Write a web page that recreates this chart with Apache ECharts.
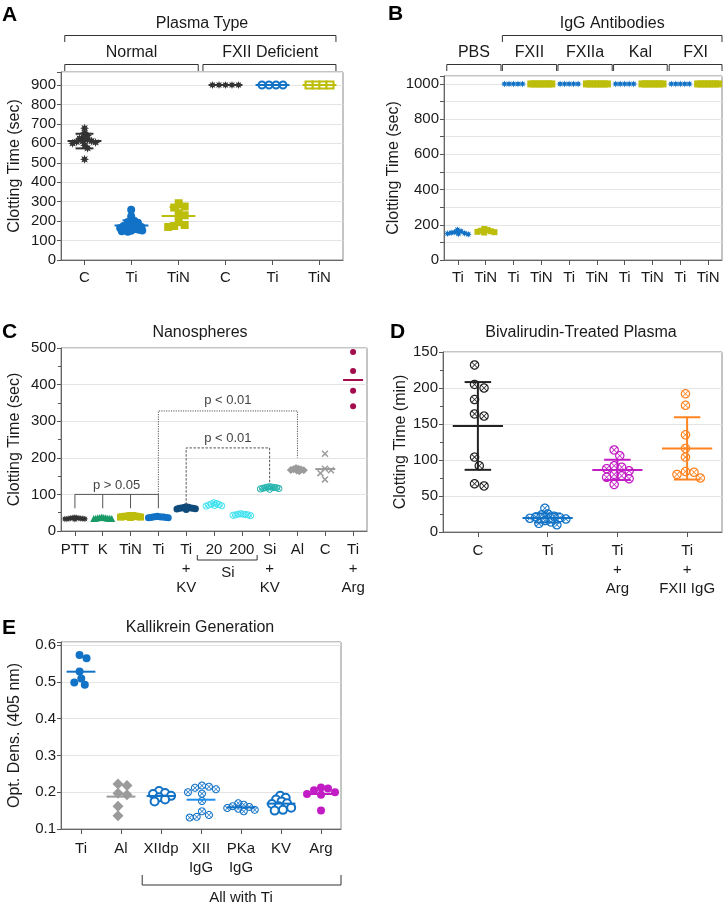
<!DOCTYPE html>
<html><head><meta charset="utf-8">
<script src="https://cdn.jsdelivr.net/npm/echarts@6/dist/echarts.min.js"></script>
<style>html,body{margin:0;padding:0;background:#fff}#c{width:728px;height:907px}</style>
</head><body><div id="c"></div>
<script>
// ================= DATA =================
// Panel A : Plasma Type
const catsA = ['C', 'Ti', 'TiN', 'C', 'Ti', 'TiN'];
const yTicksA = ['0', '100', '200', '300', '400', '500', '600', '700', '800', '900'];
const A_normal_C = [678, 655, 640, 630, 625, 618, 612, 610, 608, 605, 600, 590, 575, 518];
const A_normal_Ti = [258, 225, 205, 200, 195, 190, 185, 180, 178, 175, 172, 170, 168, 165, 162, 160, 158, 155, 152, 150, 148, 145];
const A_normal_TiN = [292, 275, 270, 240, 230, 200, 180, 175, 170];
const A_def_C = [900, 900, 900, 900, 900];
const A_def_Ti = [900, 900, 900, 900];
const A_def_TiN = [900, 900, 900, 900];

// Panel B : IgG Antibodies
const catsB = ['Ti', 'TiN', 'Ti', 'TiN', 'Ti', 'TiN', 'Ti', 'TiN', 'Ti', 'TiN'];
const groupsB = ['PBS', 'FXII', 'FXIIa', 'Kal', 'FXI'];
const yTicksB = ['0', '200', '400', '600', '800', '1000'];
const B_PBS_Ti = [172, 163, 158, 155, 152, 150, 148, 146];
const B_PBS_TiN = [176, 170, 166, 163, 160, 158, 156];
const B_FXII_Ti = [1000, 1000, 1000, 1000, 1000];
const B_FXII_TiN = [1000, 1000, 1000, 1000, 1000, 1000, 1000, 1000];
const B_FXIIa_Ti = [1000, 1000, 1000, 1000, 1000];
const B_FXIIa_TiN = [1000, 1000, 1000, 1000, 1000, 1000, 1000, 1000];
const B_Kal_Ti = [1000, 1000, 1000, 1000, 1000];
const B_Kal_TiN = [1000, 1000, 1000, 1000, 1000, 1000, 1000, 1000];
const B_FXI_Ti = [1000, 1000, 1000, 1000, 1000];
const B_FXI_TiN = [1000, 1000, 1000, 1000, 1000, 1000, 1000, 1000];

// Panel C : Nanospheres
const catsC = ['PTT', 'K', 'TiN', 'Ti', 'Ti\n+\nKV', '20', '200', 'Si\n+\nKV', 'Al', 'C', 'Ti\n+\nArg'];
const yTicksC = ['0', '100', '200', '300', '400', '500'];
const C_PTT = [37, 36, 36, 35, 35, 34, 34, 34, 33, 33, 33, 32];
const C_K = [38, 37, 37, 36, 36, 35, 35, 35, 34, 34];
const C_TiN = [42, 42, 41, 41, 40, 40, 40, 39, 39, 38, 38, 37];
const C_Ti = [40, 39, 39, 38, 38, 38, 37, 37, 36, 36];
const C_TiKV = [66, 65, 64, 63, 63, 62, 62, 61, 60, 59];
const C_Si20 = [77, 75, 74, 72, 71, 70, 69, 68];
const C_Si200 = [47, 46, 46, 45, 44, 44, 43, 42];
const C_SiKV = [121, 120, 120, 119, 118, 118, 117, 116, 115, 114];
const C_Al = [172, 170, 169, 168, 167, 166, 165, 163];
const C_C = [211, 170, 166, 158, 141];
const C_TiArg = [489, 437, 383, 341];
const pLabels = ['p > 0.05', 'p < 0.01', 'p < 0.01'];

// Panel D : Bivalirudin-Treated Plasma
const catsD = ['C', 'Ti', 'Ti\n+\nArg', 'Ti\n+\nFXII IgG'];
const yTicksD = ['0', '50', '100', '150', '200', '150'];
const D_C = [232, 205, 200, 184, 161, 164, 104, 92, 64, 67];
const D_Ti = [33, 25, 24, 22, 21, 20, 19, 18, 16, 14, 12, 10];
const D_TiArg = [114, 106, 92, 90, 88, 85, 80, 78, 76, 74, 66];
const D_TiFXII = [192, 176, 135, 116, 104, 83, 84, 80, 75];

// Panel E : Kallikrein Generation
const catsE = ['Ti', 'Al', 'XIIdp', 'XII\nIgG', 'PKa\nIgG', 'KV', 'Arg'];
const yTicksE = ['0.1', '0.2', '0.3', '0.4', '0.5', '0.6'];
const E_Ti = [0.573, 0.564, 0.528, 0.509, 0.498, 0.492];
const E_Al = [0.222, 0.218, 0.197, 0.193, 0.162, 0.136];
const E_XIIdp = [0.203, 0.198, 0.195, 0.19, 0.186, 0.18, 0.175];
const E_XIIIgG = [0.218, 0.215, 0.212, 0.208, 0.2, 0.196, 0.176, 0.148, 0.138, 0.133, 0.131];
const E_PKaIgG = [0.17, 0.166, 0.162, 0.16, 0.157, 0.155, 0.152, 0.148];
const E_KV = [0.19, 0.185, 0.18, 0.175, 0.17, 0.168, 0.162, 0.158, 0.152, 0.15];
const E_Arg = [0.213, 0.21, 0.205, 0.2, 0.195, 0.193, 0.15];

// ================= STYLE =================
const FONT = '"Liberation Sans", Arial, Helvetica, sans-serif';
const TXT = '#1a1a1a';
const COL = {
  dark: '#333333', blue: '#1272C6', olive: '#BDBD0C', green: '#189A66', navy: '#0E4A7A',
  cyan: '#40E2F0', teal: '#20B2AC', gray: '#9B9B9B', crimson: '#A40B4C', magenta: '#C21CC4',
  orange: '#FF8421', black: '#222222'
};

function poly(pts) { return 'M' + pts.map(p => p[0].toFixed(2) + ' ' + p[1].toFixed(2)).join(' L') + ' Z'; }
function circ(r, n, rev) { const o = []; for (let i = 0; i < n; i++) { const a = (rev ? -1 : 1) * 2 * Math.PI * i / n; o.push([r * Math.cos(a), r * Math.sin(a)]); } return o; }
function starPts() { const o = []; for (let i = 0; i < 16; i++) { const a = i * Math.PI / 8 - Math.PI / 2; const r = i % 2 ? 5.2 : 10; o.push([r * Math.cos(a), r * Math.sin(a)]); } return o; }
const SYM = {
  star: 'path://' + poly(starPts()),
  otimes: 'path://' + poly(circ(10, 36, true)) + ' ' + poly(circ(7.4, 36, false)) + ' ' +
    poly([[-5.9, -4.7], [4.7, 5.9], [5.9, 4.7], [-4.7, -5.9]]) + ' ' + poly([[-5.9, 4.7], [-4.7, 5.9], [5.9, -4.7], [4.7, -5.9]]),
  cross: 'path://' + poly([[-10, -7], [7, 10], [10, 7], [-7, -10]]) + ' ' + poly([[-10, 7], [-7, 10], [10, -7], [7, -10]])
};

// layout of the five plot areas
const GRIDS = [
  { left: 61, top: 72, width: 282, height: 188 },   // A
  { left: 444, top: 76, width: 278, height: 184 },  // B
  { left: 61, top: 348, width: 306, height: 183 },  // C
  { left: 443, top: 352, width: 279, height: 180 }, // D
  { left: 61, top: 642, width: 280, height: 187 }   // E
];
const Y = [
  { min: 0, max: 967, interval: 100, ticks: yTicksA, step: 100, name: 'Clotting Time (sec)', gap: 38, minor: 0 },
  { min: 0, max: 1045, interval: 100, ticks: yTicksB, step: 200, name: 'Clotting Time (sec)', gap: 36, minor: 0 },
  { min: 0, max: 500, interval: 100, ticks: yTicksC, step: 100, name: 'Clotting Time (sec)', gap: 38, minor: 2 },
  { min: 0, max: 250, interval: 50, ticks: yTicksD, step: 50, name: 'Clotting Time (min)', gap: 34, minor: 2 },
  { min: 0.1, max: 0.608, interval: 0.1, ticks: yTicksE, step: 0.1, name: 'Opt. Dens. (405 nm)', gap: 38, minor: 0 }
];
const CATS = [catsA, catsB, catsC, catsD, catsE];
const XMARGIN = [8, 8, 9, 9, 10];

// scatter groups: grid, category, values, symbol, size, color, swarm distance
const groups = [
  { g: 0, c: 0, v: A_normal_C, s: SYM.star, z: 9, col: COL.dark, d: 4 },
  { g: 0, c: 1, v: A_normal_Ti, s: 'circle', z: 8, col: COL.blue, d: 3.4 },
  { g: 0, c: 2, v: A_normal_TiN, s: 'rect', z: 8, col: COL.olive, d: 6 },
  { g: 0, c: 3, v: A_def_C, s: SYM.star, z: 8, col: COL.dark, d: 6.5 },
  { g: 0, c: 4, v: A_def_Ti, s: 'emptyCircle', z: 7, col: COL.blue, d: 7, bw: 1.4 },
  { g: 0, c: 5, v: A_def_TiN, s: 'emptyRect', z: 7, col: COL.olive, d: 7, bw: 1.4 },

  { g: 1, c: 0, v: B_PBS_Ti, s: SYM.star, z: 7, col: COL.blue, d: 3.6 },
  { g: 1, c: 1, v: B_PBS_TiN, s: 'rect', z: 6, col: COL.olive, d: 3.4 },
  { g: 1, c: 2, v: B_FXII_Ti, s: SYM.star, z: 7, col: COL.blue, d: 4.5 },
  { g: 1, c: 3, v: B_FXII_TiN, s: 'rect', z: 7, col: COL.olive, d: 3 },
  { g: 1, c: 4, v: B_FXIIa_Ti, s: SYM.star, z: 7, col: COL.blue, d: 4.5 },
  { g: 1, c: 5, v: B_FXIIa_TiN, s: 'rect', z: 7, col: COL.olive, d: 3 },
  { g: 1, c: 6, v: B_Kal_Ti, s: SYM.star, z: 7, col: COL.blue, d: 4.5 },
  { g: 1, c: 7, v: B_Kal_TiN, s: 'rect', z: 7, col: COL.olive, d: 3 },
  { g: 1, c: 8, v: B_FXI_Ti, s: SYM.star, z: 7, col: COL.blue, d: 4.5 },
  { g: 1, c: 9, v: B_FXI_TiN, s: 'rect', z: 7, col: COL.olive, d: 3 },

  { g: 2, c: 0, v: C_PTT, s: SYM.star, z: 7, col: COL.dark, d: 1.8 },
  { g: 2, c: 1, v: C_K, s: 'triangle', z: 7, col: COL.green, d: 2 },
  { g: 2, c: 2, v: C_TiN, s: 'rect', z: 7, col: COL.olive, d: 1.8 },
  { g: 2, c: 3, v: C_Ti, s: 'circle', z: 7, col: COL.blue, d: 2.2 },
  { g: 2, c: 4, v: C_TiKV, s: 'circle', z: 7, col: COL.navy, d: 2.3 },
  { g: 2, c: 5, v: C_Si20, s: SYM.otimes, z: 7, col: COL.cyan, d: 2.6 },
  { g: 2, c: 6, v: C_Si200, s: SYM.otimes, z: 7, col: COL.cyan, d: 2.5 },
  { g: 2, c: 7, v: C_SiKV, s: SYM.otimes, z: 7, col: COL.teal, d: 2.3 },
  { g: 2, c: 8, v: C_Al, s: 'diamond', z: 8, col: COL.gray, d: 2.6 },
  { g: 2, c: 9, v: C_C, s: SYM.cross, z: 7, col: COL.gray, d: 6 },
  { g: 2, c: 10, v: C_TiArg, s: 'circle', z: 6, col: COL.crimson, d: 6 },

  { g: 3, c: 0, v: D_C, s: SYM.otimes, z: 9.5, col: COL.black, d: 9.5 },
  { g: 3, c: 1, v: D_Ti, s: SYM.otimes, z: 9.5, col: COL.blue, d: 6 },
  { g: 3, c: 2, v: D_TiArg, s: SYM.otimes, z: 9.5, col: COL.magenta, d: 7.5 },
  { g: 3, c: 3, v: D_TiFXII, s: SYM.otimes, z: 9.5, col: COL.orange, d: 8.5 },

  { g: 4, c: 0, v: E_Ti, s: 'circle', z: 8, col: COL.blue, d: 7 },
  { g: 4, c: 1, v: E_Al, s: 'diamond', z: 11, col: COL.gray, d: 9 },
  { g: 4, c: 2, v: E_XIIdp, s: 'emptyCircle', z: 8, col: COL.blue, d: 6, bw: 1.4 },
  { g: 4, c: 3, v: E_XIIIgG, s: SYM.otimes, z: 8, col: COL.blue, d: 7 },
  { g: 4, c: 4, v: E_PKaIgG, s: SYM.otimes, z: 8, col: COL.blue, d: 5.5 },
  { g: 4, c: 5, v: E_KV, s: 'emptyCircle', z: 8, col: COL.blue, d: 5.5, bw: 1.4 },
  { g: 4, c: 6, v: E_Arg, s: 'circle', z: 8, col: COL.magenta, d: 7 }
];

// mean (and SD) lines: grid, category, values, colour, show SD
const meanLines = [
  { g: 0, c: 0, v: A_normal_C, col: COL.dark, sd: true },
  { g: 0, c: 1, v: A_normal_Ti, col: COL.blue, sd: true },
  { g: 0, c: 2, v: A_normal_TiN, col: COL.olive, sd: true },
  { g: 0, c: 3, v: A_def_C, col: COL.dark, sd: false },
  { g: 0, c: 4, v: A_def_Ti, col: COL.blue, sd: false },
  { g: 0, c: 5, v: A_def_TiN, col: COL.olive, sd: false },
  { g: 2, c: 9, v: C_C, col: COL.gray, sd: false },
  { g: 2, c: 10, v: C_TiArg, col: COL.crimson, sd: false },
  { g: 3, c: 0, v: D_C, col: COL.black, sd: true },
  { g: 3, c: 1, v: D_Ti, col: COL.blue, sd: true },
  { g: 3, c: 2, v: D_TiArg, col: COL.magenta, sd: true },
  { g: 3, c: 3, v: D_TiFXII, col: COL.orange, sd: true },
  { g: 4, c: 0, v: E_Ti, col: COL.blue, sd: false },
  { g: 4, c: 1, v: E_Al, col: COL.gray, sd: false },
  { g: 4, c: 2, v: E_XIIdp, col: COL.blue, sd: false },
  { g: 4, c: 3, v: E_XIIIgG, col: '#1E8FF0', sd: false },
  { g: 4, c: 4, v: E_PKaIgG, col: COL.blue, sd: false },
  { g: 4, c: 5, v: E_KV, col: COL.blue, sd: false },
  { g: 4, c: 6, v: E_Arg, col: COL.magenta, sd: false }
];

// ================= BUILD =================
const mean = a => a.reduce((s, x) => s + x, 0) / a.length;
const sdev = a => { const m = mean(a); return a.length > 1 ? Math.sqrt(a.reduce((s, x) => s + (x - m) * (x - m), 0) / (a.length - 1)) : 0; };

const chart = echarts.init(document.getElementById('c'), null, { renderer: 'canvas', width: 728, height: 907 });

const grid = GRIDS.map(g => Object.assign({ show: true, borderColor: '#8a8a8a', borderWidth: 1, backgroundColor: 'transparent', containLabel: false, outerBoundsMode: 'none' }, g));
const xAxis = CATS.map((cats, i) => ({
  type: 'category', gridIndex: i, data: cats,
  axisLine: { show: true, lineStyle: { color: '#666', width: 1 } },
  axisTick: { show: true, alignWithLabel: true, length: 5, lineStyle: { color: '#555' } },
  axisLabel: { interval: 0, color: TXT, fontSize: 15, fontFamily: FONT, lineHeight: 19, margin: XMARGIN[i] },
  splitLine: { show: false }
}));
const yAxis = Y.map((y, i) => ({
  type: 'value', gridIndex: i, min: y.min, max: y.max, interval: y.interval,
  name: y.name, nameLocation: 'middle', nameGap: y.gap,
  nameTextStyle: { color: TXT, fontSize: 16, fontFamily: FONT },
  axisLine: { show: true, lineStyle: { color: '#666', width: 1 } },
  axisTick: { show: true, length: 4, lineStyle: { color: '#555' } },
  minorTick: { show: y.minor > 0, splitNumber: y.minor || 5, length: 3, lineStyle: { color: '#555' } },
  splitLine: { show: true, lineStyle: { color: '#e4e4e4', width: 1 } },
  axisLabel: {
    color: TXT, fontSize: 15, fontFamily: FONT, margin: 5, showMaxLabel: true,
    formatter: v => {
      const k = (v - y.min) / y.step;
      const idx = Math.round(k);
      if (Math.abs(k - idx) > 1e-6) return '';
      const lab = y.ticks[idx];
      return lab === undefined ? '' : lab;
    }
  }
}));

function scatterSeries(gr, offsets) {
  return {
    type: 'scatter', xAxisIndex: gr.g, yAxisIndex: gr.g, symbol: gr.s, symbolSize: gr.z,
    itemStyle: { color: gr.col, borderWidth: gr.bw || 0, borderColor: gr.col, opacity: 1 },
    emphasis: { disabled: true }, silent: true, z: 2, animation: false,
    data: gr.v.map((val, k) => ({ value: [gr.c, val], symbolOffset: [offsets ? offsets[k] : 0, 0] }))
  };
}

function meanSeries() {
  const out = [];
  meanLines.forEach(ml => {
    out.push({
      type: 'custom', xAxisIndex: ml.g, yAxisIndex: ml.g, z: 5, silent: true, animation: false,
      data: [[ml.c, mean(ml.v), ml.sd ? sdev(ml.v) : 0]],
      renderItem: (params, api) => {
        const cx = api.value(0), m = api.value(1), s = api.value(2);
        const p = api.coord([cx, m]);
        const band = api.size([1, 0], [cx, m])[0];
        const hw = band * 0.36, cw = band * 0.19;
        const st = { stroke: ml.col, lineWidth: 2, fill: null };
        const ch = [{ type: 'line', shape: { x1: p[0] - hw, y1: p[1], x2: p[0] + hw, y2: p[1] }, style: st }];
        if (ml.sd) {
          const t = api.coord([cx, m + s]), b = api.coord([cx, m - s]);
          ch.push({ type: 'line', shape: { x1: p[0], y1: t[1], x2: p[0], y2: b[1] }, style: st });
          ch.push({ type: 'line', shape: { x1: p[0] - cw, y1: t[1], x2: p[0] + cw, y2: t[1] }, style: st });
          ch.push({ type: 'line', shape: { x1: p[0] - cw, y1: b[1], x2: p[0] + cw, y2: b[1] }, style: st });
        }
        return { type: 'group', children: ch };
      }
    });
  });
  return out;
}

chart.setOption({
  animation: false, backgroundColor: '#fff', textStyle: { fontFamily: FONT },
  grid, xAxis, yAxis,
  series: groups.map(gr => scatterSeries(gr, null)).concat(meanSeries())
});

// ---- beeswarm offsets computed from the pixel positions given by the axes ----
function swarm(pys, d) {
  const step = Math.max(0.5, d / 4);
  const order = pys.map((_, i) => i).sort((a, b) => pys[a] - pys[b]);
  const placed = [], off = new Array(pys.length).fill(0);
  order.forEach(i => {
    const y = pys[i];
    for (let k = 0; k < 600; k++) {
      const x = k === 0 ? 0 : (k % 2 ? 1 : -1) * Math.ceil(k / 2) * step;
      if (placed.every(p => (p.x - x) * (p.x - x) + (p.y - y) * (p.y - y) >= d * d - 1e-9)) { off[i] = x; placed.push({ x, y }); break; }
    }
  });
  const m = mean(off);
  return off.map(v => v - m);
}
const toPx = (g, c, v) => chart.convertToPixel({ xAxisIndex: g, yAxisIndex: g }, [c, v]);
const xAt = (g, c) => { const a = toPx(g, 0, Y[g].min)[0], b = toPx(g, 1, Y[g].min)[0]; return a + c * (b - a); };
const yAt = (g, v) => toPx(g, 0, v)[1];

const seriesFinal = groups.map(gr => scatterSeries(gr, swarm(gr.v.map(v => yAt(gr.g, v)), gr.d))).concat(meanSeries());

// ---- annotations ----
const graphic = [];
function text(t, x, y, opt) {
  graphic.push({ type: 'text', x, y, silent: true, z: 10, style: Object.assign({ text: t, fill: TXT, font: '16px ' + FONT, align: 'center', verticalAlign: 'middle' }, opt || {}) });
}
function bracketDown(x1, x2, yLine, yEnd, col) {
  graphic.push({ type: 'polyline', silent: true, z: 10, shape: { points: [[x1, yEnd], [x1, yLine], [x2, yLine], [x2, yEnd]] }, style: { stroke: col || '#333', lineWidth: 1, fill: null } });
}
function path(pts, dash, col) {
  graphic.push({ type: 'polyline', silent: true, z: 10, shape: { points: pts }, style: { stroke: col || '#555', lineWidth: 1, fill: null, lineDash: dash || null } });
}
const letter = (t, x, y) => text(t, x, y, { font: 'bold 21px ' + FONT, align: 'left', fill: '#000' });

// Panel A
letter('A', 2, 15);
text('Plasma Type', xAt(0, 2.5), 24);
bracketDown(xAt(0, -0.42), xAt(0, 5.35), 35.5, 42);
text('Normal', xAt(0, 1), 53);
text('FXII Deficient', xAt(0, 3.95), 53);
bracketDown(xAt(0, -0.42), xAt(0, 2.42), 64.5, 71);
bracketDown(xAt(0, 2.52), xAt(0, 5.35), 64.5, 71);

// Panel B
letter('B', 388, 14);
text('IgG Antibodies', xAt(1, 5.55), 24);
bracketDown(xAt(1, 1.6), xAt(1, 9.5), 35.5, 42);
const bRanges = [[-0.4, 1.55], [1.6, 3.55], [3.6, 5.55], [5.6, 7.53], [7.6, 9.5]];
groupsB.forEach((name, i) => {
  const r = bRanges[i];
  text(name, (xAt(1, r[0]) + xAt(1, r[1])) / 2, 53);
  bracketDown(xAt(1, r[0]), xAt(1, r[1]), 64.5, 71);
});

// Panel C
letter('C', 2, 332);
text('Nanospheres', 200, 333);
const cg = 2;
path([[xAt(cg, 0), yAt(cg, 62)], [xAt(cg, 0), yAt(cg, 100)], [xAt(cg, 3), yAt(cg, 100)], [xAt(cg, 3), yAt(cg, 62)]], null, '#555');
[1, 2].forEach(c => path([[xAt(cg, c), yAt(cg, 100)], [xAt(cg, c), yAt(cg, 62)]], null, '#555'));
text(pLabels[0], xAt(cg, 1.5), yAt(cg, 125), { font: '13px ' + FONT, fill: '#444' });
path([[xAt(cg, 3), yAt(cg, 100)], [xAt(cg, 3), yAt(cg, 328)], [xAt(cg, 8), yAt(cg, 328)], [xAt(cg, 8), yAt(cg, 200)]], [1.2, 1.2], '#555');
text(pLabels[1], xAt(cg, 5.5), yAt(cg, 356), { font: '13px ' + FONT, fill: '#444' });
path([[xAt(cg, 4), yAt(cg, 72)], [xAt(cg, 4), yAt(cg, 227)], [xAt(cg, 7), yAt(cg, 227)], [xAt(cg, 7), yAt(cg, 132)]], [2.5, 1.5], '#555');
text(pLabels[2], xAt(cg, 5.5), yAt(cg, 254), { font: '13px ' + FONT, fill: '#444' });
// Si size bracket under the axis
const siY = yAt(cg, 0) + 29;
bracketDown(xAt(cg, 4.4), xAt(cg, 6.55), siY, siY - 5, '#333');
text('Si', xAt(cg, 5.5), siY + 13, { font: '15px ' + FONT });

// Panel D
letter('D', 390, 332);
text('Bivalirudin-Treated Plasma', 581, 333);

// Panel E
letter('E', 2, 628);
text('Kallikrein Generation', 200, 628);
const eY = yAt(4, 0.1) + 56;
bracketDown(xAt(4, 1.53), xAt(4, 6.5), eY, eY - 10, '#333');
text('All with Ti', xAt(4, 4), eY + 13, { font: '15px ' + FONT });

chart.setOption({ series: seriesFinal, graphic });
</script>
</body></html>
